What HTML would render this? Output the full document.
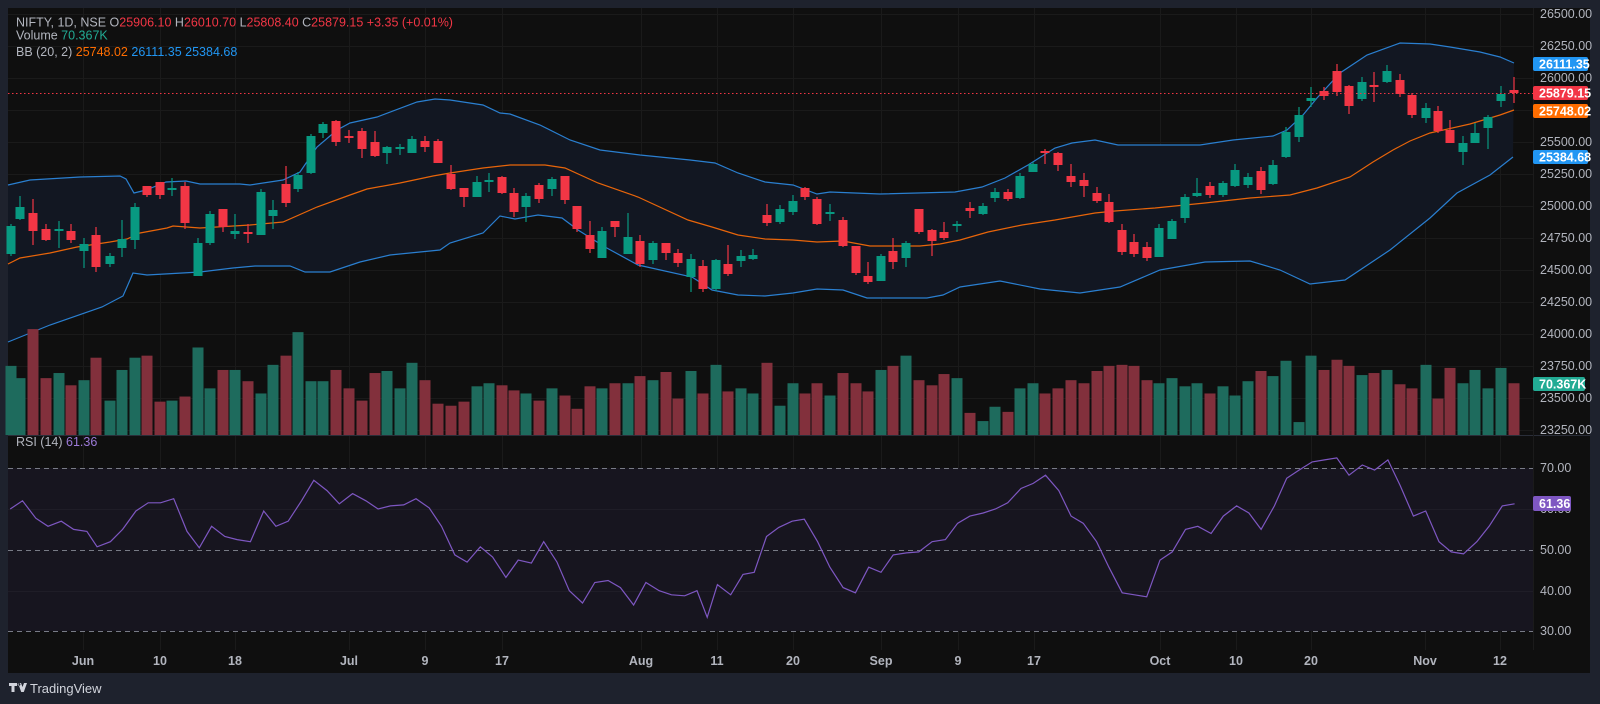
<!DOCTYPE html>
<html><head><meta charset="utf-8">
<style>
html,body{margin:0;padding:0;background:#1e222d;width:1600px;height:704px;overflow:hidden}
svg{display:block}
text{font-family:"Liberation Sans",sans-serif}
</style></head><body>
<svg id="s" width="1600" height="704" viewBox="0 0 1600 704" xmlns="http://www.w3.org/2000/svg">
<rect x="0" y="0" width="1600" height="704" fill="#1e222d"/>
<rect x="8" y="8" width="1582" height="665" fill="#0f0f0f"/>
<g id="grid"></g>
<g id="bb"></g>
<g id="vol"></g>
<g id="rsi"></g>
<g id="candles"></g>
<line x1="8" y1="435.5" x2="1590" y2="435.5" stroke="#2a2e39" stroke-width="1"/>
<line x1="1533.5" y1="8" x2="1533.5" y2="650" stroke="#1b1b1b" stroke-width="1"/>
<line x1="8" y1="93.5" x2="1533" y2="93.5" stroke="#f23645" stroke-width="1" stroke-dasharray="1.5,2.5"/>
<!-- header -->
<text x="16" y="26.5" font-size="12.5" fill="#b2b5be">NIFTY, 1D, NSE <tspan fill="#b2b5be">O</tspan><tspan fill="#f23645">25906.10</tspan> <tspan fill="#b2b5be">H</tspan><tspan fill="#f23645">26010.70</tspan> <tspan fill="#b2b5be">L</tspan><tspan fill="#f23645">25808.40</tspan> <tspan fill="#b2b5be">C</tspan><tspan fill="#f23645">25879.15</tspan> <tspan fill="#f23645">+3.35 (+0.01%)</tspan></text>
<text x="16" y="39.5" font-size="12.5" fill="#b2b5be">Volume <tspan fill="#22ab94">70.367K</tspan></text>
<text x="16" y="56" font-size="12.5" fill="#b2b5be">BB (20, 2) <tspan fill="#ff6d00">25748.02</tspan> <tspan fill="#2196f3">26111.35</tspan> <tspan fill="#2196f3">25384.68</tspan></text>
<text x="16" y="446" font-size="12.5" fill="#b2b5be">RSI (14) <tspan fill="#9c7ad8">61.36</tspan></text>
<!-- price axis -->
<g font-size="12.5" fill="#b2b5be">
<text x="1540" y="18">26500.00</text>
<text x="1540" y="50">26250.00</text>
<text x="1540" y="82">26000.00</text>
<text x="1540" y="146">25500.00</text>
<text x="1540" y="178">25250.00</text>
<text x="1540" y="210">25000.00</text>
<text x="1540" y="242">24750.00</text>
<text x="1540" y="274">24500.00</text>
<text x="1540" y="306">24250.00</text>
<text x="1540" y="338">24000.00</text>
<text x="1540" y="370">23750.00</text>
<text x="1540" y="402">23500.00</text>
<text x="1540" y="434">23250.00</text>
<text x="1540" y="472">70.00</text>
<text x="1540" y="513">60.00</text>
<text x="1540" y="554">50.00</text>
<text x="1540" y="595">40.00</text>
<text x="1540" y="635">30.00</text>
</g>
<g font-size="12.5" font-weight="bold" fill="#ffffff">
<rect x="1533" y="57" width="55" height="14" rx="2" fill="#2196f3"/><text x="1539" y="68.5">26111.35</text>
<rect x="1533" y="86" width="55" height="14" rx="2" fill="#f23645"/><text x="1539" y="97.5">25879.15</text>
<rect x="1533" y="104" width="55" height="14" rx="2" fill="#ff6d00"/><text x="1539" y="115.5">25748.02</text>
<rect x="1533" y="150" width="55" height="14" rx="2" fill="#2196f3"/><text x="1539" y="161.5">25384.68</text>
<rect x="1533" y="377" width="52" height="14" rx="2" fill="#22ab94"/><text x="1539" y="388.5">70.367K</text>
<rect x="1533" y="496" width="38" height="15" rx="2" fill="#7e57c2"/><text x="1539" y="508">61.36</text>
</g>
<!-- time axis -->
<g font-size="12.5" font-weight="bold" fill="#b2b5be" text-anchor="middle">
<text x="83" y="665">Jun</text><text x="160" y="665">10</text><text x="235" y="665">18</text>
<text x="349" y="665">Jul</text><text x="425" y="665">9</text><text x="502" y="665">17</text>
<text x="641" y="665">Aug</text><text x="717" y="665">11</text><text x="793" y="665">20</text>
<text x="881" y="665">Sep</text><text x="958" y="665">9</text><text x="1034" y="665">17</text>
<text x="1160" y="665">Oct</text><text x="1236" y="665">10</text><text x="1311" y="665">20</text>
<text x="1425" y="665">Nov</text><text x="1500" y="665">12</text>
</g>
<g fill="#d1d4dc">
<path d="M9 683h8v3h-2.5v6h-3v-6h-2.5z M18 683h3l1.5 4 1.5-4h3l-3.2 9h-2.6z M19 683a1.4 1.4 0 1 0 0.1 0z"/>
<text x="30" y="693" font-size="13" fill="#d1d4dc">TradingView</text>
</g>
</svg>
<script>
const NS="http://www.w3.org/2000/svg";
function el(p,t,a){const e=document.createElementNS(NS,t);for(const k in a)e.setAttribute(k,a[k]);p.appendChild(e);return e;}
const G=document.getElementById('grid');
[83,160,235,349,425,502,641,717,793,881,958,1034,1160,1236,1311,1425,1500].forEach(x=>{el(G,'line',{x1:x+.5,y1:8,x2:x+.5,y2:650,stroke:'#1a1a1a'});});
for(let p=26500;p>=23250;p-=250){const y=Math.round(78+(26000-p)*0.128)+.5;el(G,'line',{x1:8,y1:y,x2:1533,y2:y,stroke:'#1a1a1a'});}
// BB
const up=[[8,185],[30,180],[80,177],[120,176],[126,179],[134,193],[146,190],[166,182],[186,181],[200,184],[240,184],[250,185],[283,180],[300,172],[317,147],[337,130],[350,123],[377,117],[417,102],[435,99],[450,100],[483,105],[500,113],[510,114],[540,125],[570,140],[600,150],[640,155],[690,160],[715,163],[738,173],[765,182],[793,185],[817,194],[830,192],[880,194],[955,192],[982,187],[1005,178],[1028,165],[1055,148],[1072,143],[1095,140],[1118,145],[1200,145],[1233,140],[1273,136],[1287,130],[1303,115],[1317,98],[1340,73],[1367,55],[1400,43],[1430,44],[1450,47],[1480,52],[1500,57],[1514,63]];
const mid=[[8,264],[20,258],[50,253],[77,247],[110,242],[127,239],[140,233],[167,228],[173,226],[200,228],[250,225],[283,222],[317,207],[350,195],[367,189],[400,183],[433,176],[450,173],[483,168],[510,165],[545,165],[565,168],[598,183],[638,197],[688,220],[712,227],[738,235],[765,239],[793,240],[817,242],[843,241],[870,246],[920,246],[940,244],[960,240],[988,232],[1022,225],[1055,220],[1095,213],[1115,211],[1155,208],[1205,203],[1250,198],[1290,195],[1317,188],[1350,177],[1373,162],[1393,150],[1410,141],[1430,133],[1470,124],[1500,115],[1514,110]];
const lo=[[8,342],[50,325],[102,307],[123,296],[130,280],[133,273],[147,275],[200,272],[233,268],[255,266],[290,266],[305,272],[330,272],[360,262],[390,255],[420,252],[440,250],[450,243],[483,233],[500,216],[515,219],[538,215],[562,218],[578,230],[605,247],[638,265],[692,277],[712,290],[738,295],[765,296],[793,293],[817,289],[843,290],[867,298],[927,298],[943,295],[960,287],[1000,281],[1040,289],[1080,293],[1120,287],[1160,270],[1205,262],[1250,261],[1280,270],[1310,284],[1345,280],[1390,250],[1430,218],[1457,193],[1490,175],[1513,157]];
const B=document.getElementById('bb');
const pts=a=>a.map(p=>p.join(',')).join(' ');
el(B,'polygon',{points:pts(up)+' '+pts(lo.slice().reverse()),fill:'#121722'});
el(B,'polyline',{points:pts(up),fill:'none',stroke:'#2a7fd0','stroke-width':1.2});
el(B,'polyline',{points:pts(lo),fill:'none',stroke:'#2a7fd0','stroke-width':1.2});
el(B,'polyline',{points:pts(mid),fill:'none',stroke:'#e8650a','stroke-width':1.2});
// candles [x,top,bot,wt,wb,g]
const C=[
[11,226,254,224,256,1],[20,207,219,196,220,1],[33,213,231,199,245,0],[46,229,240,224,241,0],[59,229,231,221,248,1],[71,231,240,224,243,0],[84,244,251,238,268,1],[96,235,267,227,272,0],[110,256,264,253,267,1],[122,239,248,220,257,1],
[135,207,240,203,249,1],[147,186,195,186,197,0],[160,182,195,182,199,0],[172,188,190,178,196,1],[185,186,223,182,229,0],[198,243,276,238,276,1],[210,214,243,211,245,1],[223,209,227,209,232,0],[235,231,234,214,239,1],[248,232,234,224,243,0],
[261,192,235,189,235,1],[273,210,216,200,229,1],[286,184,203,166,207,0],[298,175,189,172,192,1],[311,136,173,134,174,1],[323,124,133,122,138,1],[336,121,142,120,146,0],[349,136,138,130,143,0],[362,131,149,128,158,0],[375,142,156,131,157,0],
[387,147,153,146,164,1],[400,147,149,144,155,1],[412,139,153,136,153,1],[425,141,147,136,152,0],[438,141,163,139,163,0],[451,174,189,165,190,0],[464,188,197,188,207,0],[477,182,197,176,197,1],[489,180,182,173,192,1],[502,177,193,176,194,0],
[514,193,212,188,217,0],[526,196,207,193,222,1],[539,185,199,183,203,0],[552,179,189,177,196,1],[565,176,200,176,204,0],[577,206,229,206,232,0],[590,235,249,221,253,0],[602,231,258,227,258,1],[615,221,227,221,237,0],[628,237,254,213,254,1],
[640,241,264,235,267,0],[653,243,260,241,264,1],[666,243,253,243,260,0],[678,253,263,249,267,0],[691,259,277,254,292,1],[703,266,289,260,292,0],[716,260,289,259,291,1],[728,264,274,245,276,0],[741,256,261,250,267,1],[753,255,259,249,260,1],
[767,215,223,204,226,0],[780,209,222,205,224,1],[793,201,212,195,215,1],[805,188,197,187,200,0],[817,199,224,197,225,0],[830,212,214,204,221,1],[843,220,246,217,247,0],[856,246,273,246,275,0],[868,276,282,262,284,0],[881,256,281,254,281,1],
[893,251,262,238,269,0],[906,243,258,241,267,1],[919,209,232,209,234,0],[932,230,241,229,256,0],[944,232,238,222,240,0],[957,224,226,221,232,1],[970,208,211,202,218,0],[983,206,214,203,215,1],[995,192,198,188,202,1],[1008,192,199,189,201,0],
[1020,176,198,173,199,1],[1033,164,172,162,172,1],[1045,151,153,149,164,0],[1058,153,165,152,171,0],[1071,176,182,164,187,0],[1084,180,186,173,197,0],[1097,193,201,187,203,0],[1109,202,222,194,223,0],[1122,230,252,224,255,0],[1134,242,254,234,257,0],
[1147,247,258,242,261,0],[1159,228,257,224,257,1],[1172,221,239,219,239,1],[1185,197,218,194,223,1],[1197,193,196,178,197,1],[1210,186,195,182,198,0],[1223,183,195,181,197,1],[1235,170,186,164,187,1],[1248,177,185,173,188,1],[1261,171,190,167,194,0],
[1273,165,184,160,185,1],[1286,132,157,127,158,1],[1299,115,137,107,142,1],[1311,98,101,87,107,1],[1324,91,96,87,100,0],[1337,71,92,64,96,0],[1349,86,106,85,114,0],[1362,82,99,77,101,1],[1374,85,87,72,102,0],[1387,71,82,65,83,1],
[1400,80,94,74,97,0],[1412,95,115,93,118,0],[1426,108,118,103,123,1],[1438,111,131,106,133,0],[1450,130,143,120,143,0],[1463,143,152,136,165,1],[1475,133,143,123,143,1],[1488,117,128,115,149,1],[1501,94,101,86,107,1],[1514,90,93,77,103,0]];
const V=[358,370,322,370,365,377,372,350,392,362,350,348,393,392,388,340,380,362,362,373,
385,357,348,325,373,373,362,380,392,365,363,380,355,372,395,397,393,378,375,377,
382,385,392,380,387,400,378,380,375,375,368,372,364,390,363,385,357,383,380,385,
355,397,375,385,375,387,365,375,383,362,358,348,372,377,366,370,404,412,398,403,
380,375,385,380,372,375,363,358,357,358,372,375,370,378,375,385,378,387,373,363,
368,353,413,348,362,352,358,367,365,362,376,380,357,390,360,375,362,380,360,375];
const K=document.getElementById('candles'),VG=document.getElementById('vol');
C.forEach((c,i)=>{const col=c[5]?'#089981':'#f23645';
 el(K,'line',{x1:c[0],y1:c[3],x2:c[0],y2:c[4],stroke:col,'stroke-width':1.2});
 el(K,'rect',{x:c[0]-4.5,y:c[1],width:9,height:Math.max(1.5,c[2]-c[1]),fill:col});
 const top=Math.min(V[i]*1.022,430);
 el(VG,'rect',{x:c[0]-5.5,y:top,width:11,height:435-top,fill:c[5]?'#1e6b5d':'#82303c'});
});
// RSI
const R=document.getElementById('rsi');
el(R,'rect',{x:8,y:468,width:1525,height:163,fill:'#17151f'});
[509,591].forEach(y=>el(R,'line',{x1:8,y1:y+.5,x2:1533,y2:y+.5,stroke:'#1f1d27'}));
[468,550,631].forEach(y=>el(R,'line',{x1:8,y1:y+.5,x2:1533,y2:y+.5,stroke:'#787b86','stroke-dasharray':'5,4'}));
const rp=[[10,498],[22,490],[35,507],[47,515],[60,510],[72,518],[85,520],[95,535],[108,530],[120,518],[133,500],[145,492],[157,492],[170,488],[183,520],[195,536],[207,515],[220,525],[232,528],[245,530],[258,500],[270,515],[282,510],[295,490],[307,470],[320,480],[332,493],[345,483],[358,490],[370,498],[382,495],[395,494],[407,488],[420,497],[432,515],[445,543],[457,550],[470,535],[482,545],[495,565],[507,548],[520,551],[532,530],[545,550],[557,578],[570,590],[582,570],[595,568],[607,575],[620,592],[632,570],[645,578],[657,582],[670,583],[682,578],[692,604],[702,572],[715,582],[727,562],[738,560],[750,525],[762,516],[775,510],[787,508],[800,530],[812,555],[825,575],[837,580],[850,555],[862,560],[874,543],[887,541],[899,540],[912,530],[925,528],[937,512],[949,505],[962,502],[974,498],[986,492],[999,478],[1011,473],[1023,465],[1036,480],[1048,505],[1060,512],[1073,530],[1085,555],[1098,580],[1110,582],[1122,584],[1135,548],[1147,540],[1160,518],[1172,515],[1185,522],[1197,505],[1210,495],[1222,502],[1234,518],[1247,495],[1259,468],[1271,460],[1284,452],[1296,450],[1308,448],[1320,465],[1333,455],[1345,460],[1358,450],[1370,475],[1383,505],[1395,500],[1408,530],[1420,540],[1432,542],[1445,530],[1457,515],[1470,495],[1482,493]];
el(R,'polyline',{points:rp.map(p=>(p[0]*1.022).toFixed(1)+','+(p[1]*1.022).toFixed(1)).join(' '),fill:'none',stroke:'#7e57c2','stroke-width':1.2});
</script>
</body></html>
